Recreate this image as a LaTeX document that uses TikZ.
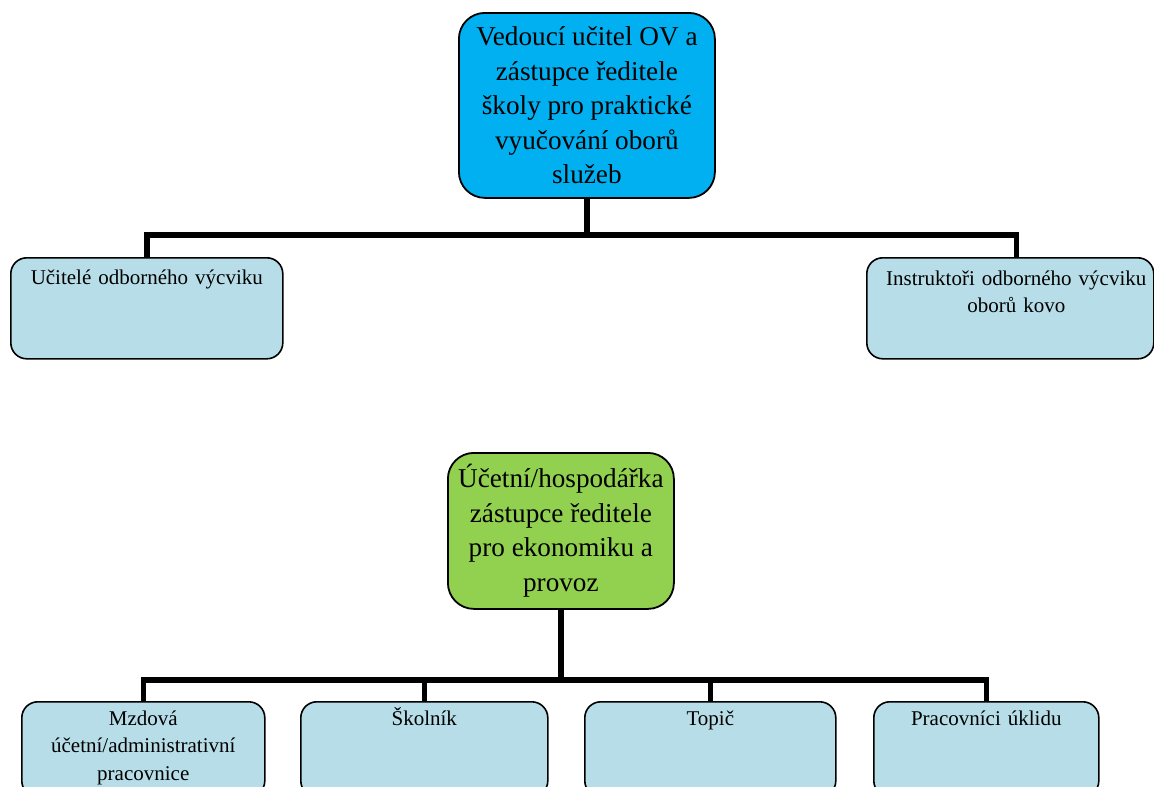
\documentclass[tikz,border=0pt]{standalone}
\usepackage{fontspec}
\setmainfont{Liberation Serif}
\definecolor{headblue}{HTML}{00B0F0}
\definecolor{headgreen}{HTML}{92D050}
\definecolor{leafblue}{HTML}{B7DEE8}
\begin{document}
\begin{tikzpicture}[x=1pt,y=-1pt,
  head/.style={draw=black, line width=1.8pt, rounded corners=26pt, inner sep=0pt,
    align=center, font=\fontsize{27.2}{34.5}\selectfont},
  leaf/.style={draw=black, line width=1.6pt, fill=leafblue, rounded corners=16pt,
    inner sep=0pt, anchor=north west},
  leaftext/.style={font=\fontsize{21}{27.5}\selectfont, text width=270pt,
    align=center, anchor=base, inner sep=0pt},
  trunk/.style={line width=5.5pt}]
\useasboundingbox (0,0) rectangle (1154,787);
\fill[white] (0,0) rectangle (1154,787);
\clip (0,0) rectangle (1154,787);

% upper branch
\node[head, fill=headblue, minimum width=256pt, minimum height=185pt, anchor=north west]
  (ved) at (458,12) {Vedoucí učitel OV a\\zástupce ředitele\\školy pro praktické\\vyučování oborů\\služeb};
\node[leaf, minimum width=272pt, minimum height=101pt] (ucit) at (10,257) {};
\node[leaftext] at ([yshift=-27pt]ucit.north) {Učitelé odborného výcviku};
\node[leaf, minimum width=287pt, minimum height=101pt] (inst) at (866,257) {};
\node[leaftext] at ([xshift=6pt,yshift=-28pt]inst.north) {Instruktoři odborného výcviku\\oborů kovo};

\coordinate (bar1) at ([yshift=-36pt]ved.south);
\draw[trunk] (ved.south) -- (bar1);
\draw[trunk] (ucit.north) |- (bar1) -| ([xshift=6pt]inst.north);

% lower branch
\node[head, fill=headgreen, minimum width=226pt, minimum height=156pt, anchor=north west]
  (eko) at (447,452) {Účetní/hospodářka\\zástupce ředitele\\pro ekonomiku a\\provoz};
\node[leaf, minimum width=243pt, minimum height=95pt] (mzda) at (21,701) {};
\node[leaftext] at ([yshift=-24pt]mzda.north) {Mzdová\\účetní/administrativní\\pracovnice};
\node[leaf, minimum width=247pt, minimum height=95pt] (skol) at (300,701) {};
\node[leaftext] at ([yshift=-24pt]skol.north) {Školník};
\node[leaf, minimum width=251pt, minimum height=95pt] (topic) at (584,701) {};
\node[leaftext] at ([yshift=-24pt]topic.north) {Topič};
\node[leaf, minimum width=225pt, minimum height=95pt] (ukl) at (873,701) {};
\node[leaftext] at ([yshift=-24pt]ukl.north) {Pracovníci úklidu};

\coordinate (bar2) at ([yshift=-70pt]eko.south);
\draw[trunk] (eko.south) -- (bar2);
\draw[trunk] (mzda.north) |- (bar2) -| (ukl.north);
\draw[trunk] (skol.north) -- (skol.north |- bar2);
\draw[trunk] (topic.north) -- (topic.north |- bar2);
\end{tikzpicture}
\end{document}
